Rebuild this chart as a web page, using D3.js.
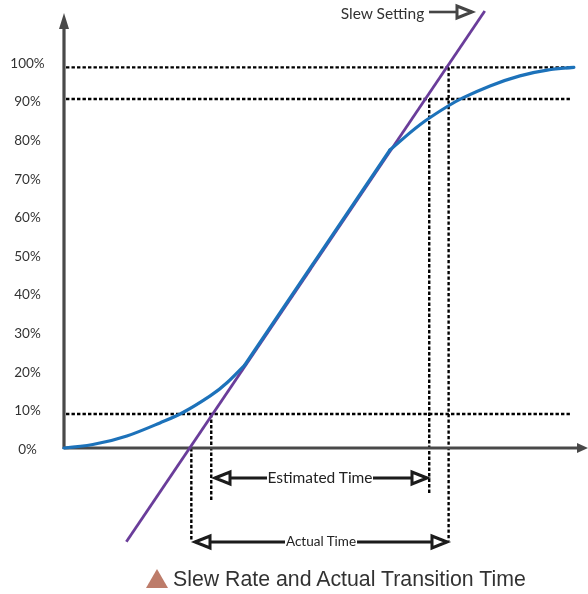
<!DOCTYPE html>
<html>
<head>
<meta charset="UTF-8">
<title>Slew Rate and Actual Transition Time</title>
<script src="https://cdn.jsdelivr.net/npm/d3@7"></script>
<style>
* {
  margin: 0;
  padding: 0;
}
body {
  background: #fff;
}
svg {
  display: block;
}
text {
  font-family: Lato, sans-serif;
}
</style>
</head>
<body>
<svg id="chart" width="588" height="594"></svg>
<script>
// values: time as % of the axis length, level in %
const tickLabels = [0, 10, 20, 30, 40, 50, 60, 70, 80, 90, 100];
const lowTime = [0, 5.5, 12, 18.3, 22.7, 27.9, 31.1, 34.5];
const lowLevel = [0, 0.9, 3.1, 6.5, 9.2, 13.5, 16.9, 21.5];
const highTime = [62.2, 65.1, 68.9, 73.3, 76.1, 81.3, 87, 92.2, 97.3];
const highLevel = [77.2, 80.6, 84.7, 88.6, 90.7, 93.8, 96.4, 97.9, 98.6];
const slewTime = [11.9, 80.3];
const slewLevel = [-24.3, 113.2];
const guideLevels = [98.6, 90.4, 8.8];
const guideEnd = [96.6, 96.8, 96.8];
const dropTime = [28.1, 24.3, 69.7, 73.4];
const dropFrom = [8.8, 0, 90.4, 98.6];
const dropTo = [-13.5, -24.1, -12.2, -24.1];

const svg = d3.select("#chart");
const x = d3.scaleLinear().domain([0, 100]).range([64, 588]);
const y = d3.scaleLinear().domain([0, 100]).range([448, 62]);

const blur = svg.append("defs").append("filter").attr("id", "soft");
blur.append("feGaussianBlur").attr("stdDeviation", 0.35);
const g = svg.append("g").attr("filter", "url(#soft)");

const line = d3.line().x(d => x(d[0])).y(d => y(d[1]));
const bend = d3.line().x(d => x(d[0])).y(d => y(d[1])).curve(d3.curveNatural);

// tick labels only, the axis lines are drawn with arrow heads below
const yAxis = d3.axisLeft(y).tickValues(tickLabels).tickSize(0).tickFormat(d => d + "%");
const axisG = g.append("g").attr("transform", "translate(27.5,1)").call(yAxis);
axisG.select(".domain").remove();
axisG.selectAll("text")
  .attr("x", 0)
  .attr("text-anchor", "middle")
  .style("font-family", "Lato, sans-serif")
  .style("font-size", "13.5px")
  .style("fill", "#333");

// dotted guides
g.selectAll(".guide").data(guideLevels).enter().append("line")
  .attr("class", "guide")
  .attr("x1", x(0) + 2)
  .attr("x2", (d, i) => x(guideEnd[i]))
  .attr("y1", d => y(d))
  .attr("y2", d => y(d))
  .attr("stroke", "#000").attr("stroke-width", 2.4).attr("stroke-dasharray", "3.4 2.1");

g.selectAll(".drop").data(dropTime).enter().append("line")
  .attr("class", "drop")
  .attr("x1", d => x(d))
  .attr("x2", d => x(d))
  .attr("y1", (d, i) => y(dropFrom[i]))
  .attr("y2", (d, i) => y(dropTo[i]))
  .attr("stroke", "#000").attr("stroke-width", 2.4).attr("stroke-dasharray", "3.4 2.1");

// axes
g.append("line").attr("x1", x(0)).attr("x2", x(0)).attr("y1", y(0) + 1).attr("y2", 26)
  .attr("stroke", "#4a4a4a").attr("stroke-width", 3.2);
g.append("path").attr("d", "M64,13L59,29L69,29Z").attr("fill", "#4a4a4a");
g.append("line").attr("x1", x(0)).attr("x2", 580).attr("y1", y(0)).attr("y2", y(0))
  .attr("stroke", "#4a4a4a").attr("stroke-width", 3.2);
g.append("path").attr("d", "M588,448L577,443L577,453Z").attr("fill", "#4a4a4a");

// slew line, then the real edge on top of it
g.append("path")
  .datum(d3.zip(slewTime, slewLevel))
  .attr("d", line)
  .attr("fill", "none").attr("stroke", "#6a3d9a").attr("stroke-width", 2.8);

// the edge is two bends joined by a straight run
const lowPts = d3.zip(lowTime, lowLevel);
const highPts = d3.zip(highTime, highLevel);
const edge = [bend(lowPts), line([lowPts[lowPts.length - 1], highPts[0]]), bend(highPts)];
g.selectAll(".edge").data(edge).enter().append("path")
  .attr("class", "edge")
  .attr("d", d => d)
  .attr("fill", "none").attr("stroke", "#1f72ba").attr("stroke-width", 3.2)
  .attr("stroke-linecap", "round");

// open headed arrows for the annotations
function arrow(x1, x2, yy, stroke, sw) {
  const dir = x2 > x1 ? 1 : -1;
  const base = x2 - dir * 15;
  g.append("line").attr("x1", x1).attr("x2", base).attr("y1", yy).attr("y2", yy)
    .attr("stroke", stroke).attr("stroke-width", sw);
  g.append("path")
    .attr("d", `M${x2},${yy}L${base},${yy - 6}L${base},${yy + 6}Z`)
    .attr("fill", "#fff").attr("stroke", stroke).attr("stroke-width", 3);
}

arrow(267, 215, 478, "#1a1a1a", 2.8);
arrow(373, 427, 478, "#1a1a1a", 2.8);
arrow(285, 195, 542, "#1a1a1a", 2.8);
arrow(357, 447, 542, "#1a1a1a", 2.8);
arrow(429, 472, 12, "#444", 2.6);

g.append("text").attr("x", 320).attr("y", 483).attr("text-anchor", "middle")
  .style("font-size", "15.5px").style("fill", "#222").text("Estimated Time");
g.append("text").attr("x", 321).attr("y", 546).attr("text-anchor", "middle")
  .style("font-size", "13.5px").style("fill", "#222").text("Actual Time");
g.append("text").attr("x", 382.5).attr("y", 19).attr("text-anchor", "middle")
  .style("font-size", "15.5px").style("fill", "#333").text("Slew Setting");

// caption
g.append("path").attr("d", "M157,569L168,588L146,588Z").attr("fill", "#bd7c6b");
g.append("text").attr("x", 173).attr("y", 586)
  .style("font-family", '"Liberation Sans", sans-serif')
  .style("font-size", "21.3px").style("fill", "#333")
  .text("Slew Rate and Actual Transition Time");
</script>
</body>
</html>
